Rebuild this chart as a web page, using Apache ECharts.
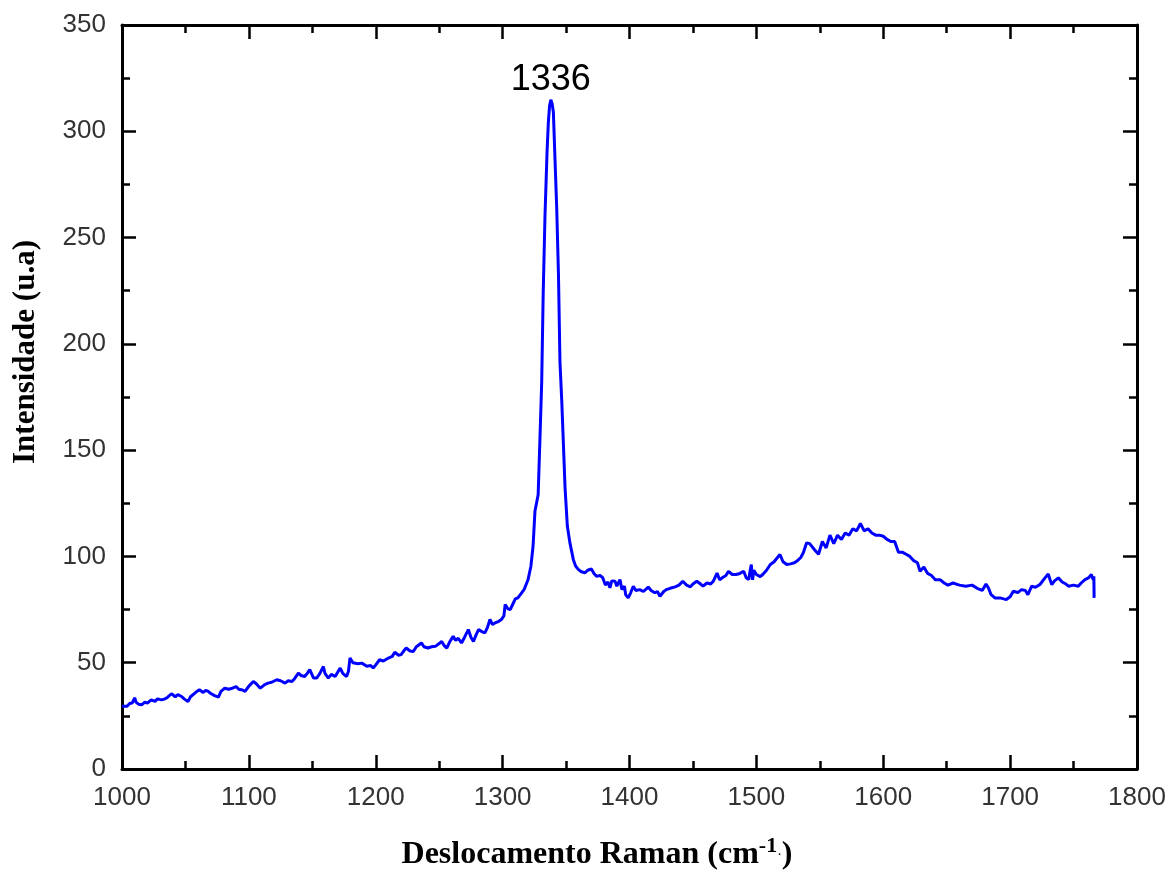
<!DOCTYPE html>
<html>
<head>
<meta charset="utf-8">
<script src="https://cdn.jsdelivr.net/npm/echarts@6/dist/echarts.min.js"></script>
<style>html,body{margin:0;padding:0;background:#fff}#c{width:1170px;height:872px}</style>
</head>
<body>
<div id="c"></div>
<script>
const ramanShift = [1000,1001,1004,1006,1008,1010,1011,1013,1015.5,1018,1020,1023,1026,1028,1031,1034,1036,1039,1042,1044,1047,1049,1052,1054,1057,1059,1061,1064,1066,1068,1070,1073,1076,1078,1081,1084,1087,1090,1092,1095,1097,1100,1103.5,1106,1109,1112,1115,1118,1122,1125,1128.5,1131,1134,1136,1139,1141,1144,1146,1148,1151,1153.5,1156,1158.7,1160,1162.6,1165,1168,1170,1172,1174,1177,1178.5,1179.7,1182,1186,1189,1193,1196,1198,1200,1203,1206,1210,1213,1215,1218,1220,1222,1224,1227,1229.6,1232,1236,1238,1241,1244,1247,1250,1252,1254,1256,1258,1261,1263,1265,1267.6,1270,1273,1275,1277,1279,1281,1284,1286,1288,1290,1292,1294,1297,1299,1301,1302,1304,1306,1308,1310,1312,1315,1317,1320,1322.3,1324,1325.5,1328,1329.4,1330.8,1332,1333.4,1335,1336,1337,1338,1339,1340,1341.3,1342.6,1344,1345.2,1346.6,1347.8,1349.2,1351,1353,1355.7,1357.5,1359.6,1362,1365,1367,1370,1372,1374,1377,1379,1381,1383,1384.6,1386,1388.6,1390,1392.5,1394,1396,1397,1399,1401,1403,1405,1408,1411,1414.8,1417,1420,1422,1424,1427,1429,1432,1436,1439,1442,1445,1448,1450,1453,1456,1458,1461,1464,1466,1469,1471,1474,1476,1478,1481,1484,1487,1490,1492,1494,1495,1496,1497,1498,1500,1503,1505,1508,1511,1514,1516,1518.6,1521,1524,1527,1530,1532,1535,1537,1539.6,1542,1546,1549,1552,1555,1558,1561,1564,1567,1570,1573,1576,1579,1582,1585,1588,1591,1594,1597,1600,1603,1606,1609,1612,1615,1618,1621,1624,1627,1629,1632,1635,1638,1641,1645,1648,1651,1655,1660,1665,1670,1674,1678,1681,1683,1685,1688,1692,1697,1700,1702.5,1706,1709,1712,1714,1717,1720,1723.5,1727.5,1730,1731.5,1732.8,1735,1738,1741,1744,1746,1750,1753.7,1756,1759,1762,1764,1765.5,1766,1766.2];
const intensity = [29.5,30.2,29.5,30.8,31,33.5,31.5,30.5,30.2,31.5,31,32.5,31.8,33,32.5,33,33.8,35.4,34,35,34.1,33,31.7,34,35.5,36.5,37.3,36,37,36.5,35.5,34.5,33.8,36.5,38,37.5,38,38.8,37.5,37.2,36.5,39,41.2,40,38,39.5,40.4,40.8,42,41.5,40.4,41.5,41.2,42.5,45.1,44,43.5,45,46.7,42.8,42.8,45,48.2,45,42.8,44.5,43.5,45.5,47.5,45,43.5,46,52.2,50,49.5,49.8,48.3,48.7,47.5,49,51.4,50.8,52.2,53,54.9,53.5,53.8,55.5,56.9,55.5,55.3,57.5,59.3,57.5,56.9,57.5,57.7,59,60,58,56.9,59.5,62.4,60.5,61.5,59.3,62,65.6,62,60,63,65.6,64.5,64,66.5,70.3,68,68.7,69.5,70.3,72,77.4,75.5,75,77.5,80,80.5,82.9,84.5,89,95.4,104.9,121.4,129,155,182,224.4,260.5,290,303.8,312,314.8,313,309,286.5,264.5,233,191.4,173.3,154.4,132.4,114.3,106.5,98.6,95.5,93.9,92.8,92.3,93.5,94.1,92,90.7,91,89.9,86.5,88,85.2,88.5,88.3,86,89.1,84.4,86,82,80.5,83,86,84,84.4,83.5,85.6,84,82.9,83.5,81.3,83.5,84.4,85,85.7,86.5,88.3,86.5,85.7,87,88.3,87,86,87.5,87,88.3,92.2,89,90.3,91,93,91.5,91.5,92,93,90,89.1,93,96.2,89,93.5,91.5,90.5,91.5,93.5,96.2,97.5,99,100.9,97.5,96.2,96.5,97,97.8,99.5,101.7,106.4,106,103,101,107,104,110,106,110,108,111,110,113,112,115.5,112,113,111,110,110,109.5,108,107,107,102,102,101,100,98,97,93,95,92,91,89,89,87.5,86.5,87.5,86.5,86,86.5,85,84,87,85,82,80.5,80.5,79.7,81,83.6,83,84.4,84,82,86,85.5,86.8,89.9,91.7,89,86.8,88.5,89.9,88,87,86,86.5,86,87.5,89.1,90,91.5,89,90.7,80.5];
const xTicks = [1000,1100,1200,1300,1400,1500,1600,1700,1800];
const yTicks = [0,50,100,150,200,250,300,350];
const peakLabel = '1336';
const xTitle = 'Deslocamento Raman (cm';
const yTitle = 'Intensidade (u.a)';

const points = ramanShift.map((x, i) => [x, intensity[i]]);
const chart = echarts.init(document.getElementById('c'), null, {renderer: 'canvas'});

const lineStyle = {color: '#000', width: 3};
const tickStyle = {color: '#000', width: 2.5};
const labelFont = {fontFamily: 'Liberation Sans, Arial', fontSize: 26, color: '#333'};
function xAxisCfg(pos, showLabel) {
  return {
    type: 'value', position: pos, min: xTicks[0], max: xTicks[xTicks.length - 1], interval: 100,
    axisLine: {show: true, onZero: false, lineStyle},
    axisTick: {show: true, inside: true, length: 14, lineStyle: tickStyle},
    minorTick: {show: true, splitNumber: 2, length: 8, lineStyle: tickStyle},
    splitLine: {show: false},
    axisLabel: Object.assign({show: showLabel, margin: 16, formatter: v => String(v)}, labelFont)
  };
}
function yAxisCfg(pos, showLabel) {
  return {
    type: 'value', position: pos, min: yTicks[0], max: yTicks[yTicks.length - 1], interval: 50,
    axisLine: {show: true, onZero: false, lineStyle},
    axisTick: {show: true, inside: true, length: 14, lineStyle: tickStyle},
    minorTick: {show: true, splitNumber: 2, length: 8, lineStyle: tickStyle},
    splitLine: {show: false},
    axisLabel: Object.assign({show: showLabel, margin: 16, formatter: v => String(v)}, labelFont)
  };
}

chart.setOption({
  animation: false,
  backgroundColor: '#fff',
  grid: {left: 122, right: 33, top: 25, bottom: 103, containLabel: false},
  xAxis: [xAxisCfg('bottom', true), xAxisCfg('top', false)],
  yAxis: [yAxisCfg('left', true), yAxisCfg('right', false)],
  series: [{
    type: 'line', xAxisIndex: 0, yAxisIndex: 0, data: points, showSymbol: false, symbol: 'none',
    lineStyle: {color: '#0000ff', width: 3}, z: 3,
    markPoint: {
      symbol: 'circle', symbolSize: 1, itemStyle: {color: 'rgba(0,0,0,0)'},
      data: [{type: 'max'}],
      label: {show: true, position: 'top', distance: 1, formatter: peakLabel,
        fontFamily: 'Liberation Sans, Arial', fontSize: 36, color: '#000'}
    }
  }],
  graphic: [
    {type: 'text', x: 597, y: 855, style: {
      text: '{a|' + xTitle + '}{s|-1}{d|·}{a|)}', align: 'center', verticalAlign: 'middle',
      rich: {
        a: {fontFamily: 'Liberation Serif, Times New Roman', fontWeight: 'bold', fontSize: 32, color: '#000'},
        s: {fontFamily: 'Liberation Serif, Times New Roman', fontWeight: 'bold', fontSize: 22, color: '#000', padding: [0, 0, 18, 0]},
        d: {fontFamily: 'Liberation Serif, Times New Roman', fontSize: 14, color: '#000'}
      }
    }},
    {type: 'text', x: 26, y: 352, rotation: Math.PI / 2, style: {
      text: yTitle, align: 'center', verticalAlign: 'middle',
      font: 'bold 31px "Liberation Serif", "Times New Roman"', fill: '#000'
    }}
  ]
});
</script>
</body>
</html>
